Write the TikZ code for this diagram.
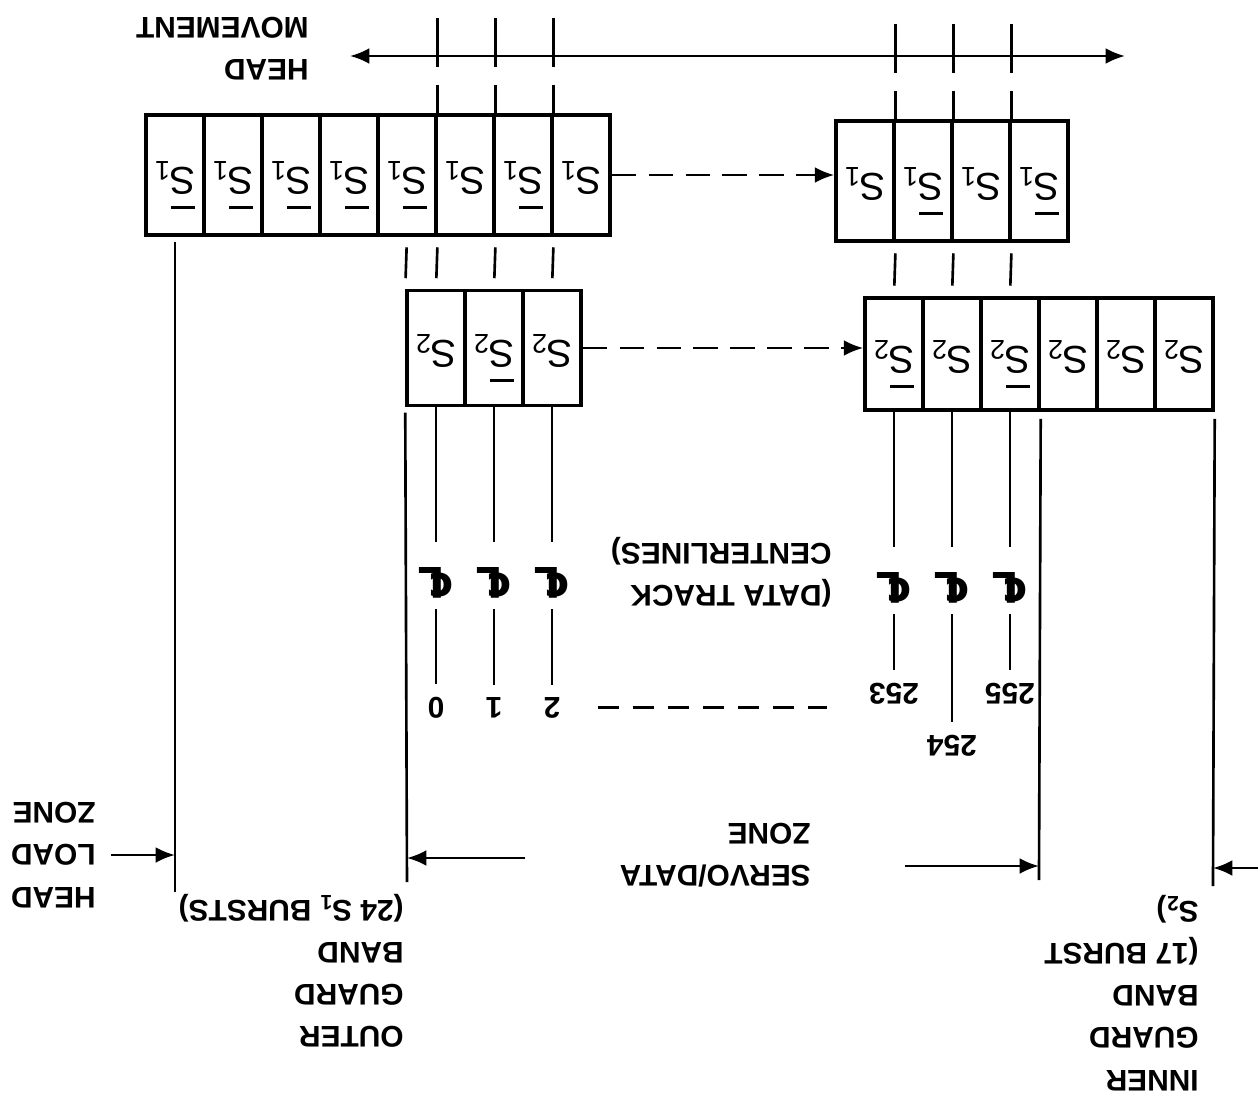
\documentclass[tikz,border=0pt]{standalone}
\usepackage{fontspec}
\setmainfont{Liberation Sans}
\newfontfamily\symfont{DejaVu Sans}
\usetikzlibrary{arrows.meta}

\newcommand{\burst}[1]{S\textsubscript{#1}}
\newcommand{\nburst}[1]{\rlap{\kern.03em\rule[.98em]{.6em}{2pt}}S\textsubscript{#1}}
\newcommand{\clsym}{{\symfont ℄}}

\tikzset{
  cell/.style={draw, line width=2pt, minimum width=1.16cm, minimum height=2.4cm, inner sep=0pt,
    font=\fontsize{22}{22}\selectfont, text height=1.1em, text depth=.3em},
  lbl/.style={font=\bfseries\fontsize{17}{24}\selectfont, align=left, inner sep=0pt},
  trackno/.style={font=\bfseries\fontsize{17}{24}\selectfont, inner sep=.22cm, anchor=base},
  cl/.style={font=\bfseries\fontsize{24}{24}\selectfont, inner sep=.2cm, text depth=.28cm, anchor=base},
  trackdash/.style={dash pattern=on 28pt off 10pt},
  link/.style={dash pattern=on 14pt off 7pt, -{Latex[length=11pt,width=9pt]}},
  zone/.style={-{Latex[length=11pt,width=9pt]}},
}

\begin{document}
\begin{tikzpicture}[x=0.02cm, y=0.02cm, rotate=180, transform shape, line width=1.5pt]
\useasboundingbox (0,0) rectangle (1258,1095);

% S1 bursts (outer and inner)
\foreach \ov [count=\i] in {0,1,0,1,1,1,1,1}
  \node[cell] (oa\i) at ({677+58*(\i-1)},175) {\ifnum\ov=1 \nburst{1}\else\burst{1}\fi};
\foreach \ov [count=\i] in {1,0,1,0}
  \node[cell] (ia\i) at ({219+58*(\i-1)},181) {\ifnum\ov=1 \nburst{1}\else\burst{1}\fi};

% S2 bursts
\foreach \ov [count=\i] in {0,1,0}
  \node[cell, minimum height=2.3cm] (ob\i) at ({706+58*(\i-1)},348) {\ifnum\ov=1 \nburst{2}\else\burst{2}\fi};
\foreach \ov [count=\i] in {0,0,0,1,0,1}
  \node[cell, minimum height=2.24cm] (ib\i) at ({74+58*(\i-1)},354) {\ifnum\ov=1 \nburst{2}\else\burst{2}\fi};

\draw[link] (oa1.west) -- (oa1.west -| ia4.east);
\draw[link] (ob1.west) -- (ob1.west -| ib6.east);

% head movement
\node[lbl, anchor=west] (hm) at (948,49) {HEAD\\MOVEMENT};
\coordinate (hmo) at (908,56);
\coordinate (hmi) at (133,56);
\draw[{Latex[length=11pt,width=9pt]}-{Latex[length=11pt,width=9pt]}] (hmo) -- (hmi);

\foreach \c in {oa2,oa3,oa4,ia2,ia3,ia4}
  \draw[trackdash] (\c.south west) ++(0,-95) -- (\c.south west);
\foreach \a/\b in {oa2.north west/ob1.south, oa3.north west/ob2.south, oa4.north west/ob3.south,
    oa4.north/ob3.south east, ia2.north west/ib4.south, ia3.north west/ib5.south, ia4.north west/ib6.south}
  \draw[shorten <=6pt, shorten >=6pt] (\a) -- (\b);

% track centrelines
\foreach \u/\t in {706/2,764/1,822/0} {
  \node[cl] (cl\t) at (\u,567) {\clsym};
  \node[trackno] (n\t) at (\u,697) {\t};
}
\foreach \u/\t/\h in {364/253/683,306/254/735,248/255/683} {
  \node[cl] (cl\t) at (\u,572) {\clsym};
  \node[trackno] (n\t) at (\u,\h) {\t};
}
\foreach \c/\t in {ob1/2,ob2/1,ob3/0,ib6/253,ib5/254,ib4/255} {
  \draw (\c.north) -- (cl\t.south);
  \draw (cl\t.north) -- (n\t.south);
}
\draw[dash pattern=on 12pt off 8pt, shorten <=.5cm, shorten >=.6cm] (n2.west) -- (n2.west -| n253.east);
\node[lbl, anchor=west] (dtc) at (425,572) {(DATA TRACK\\CENTERLINES)};

% zone boundaries
\coordinate (hll) at (1083,892);
\coordinate (gbo) at (851,882);
\coordinate (gbi) at (219,880);
\coordinate (ibe) at (45,886);
\draw[shorten <=3pt] (oa8.north) -- (hll);
\draw[shorten <=3pt] (ob3.north east) -- (gbo);
\draw[shorten <=4pt] (ib4.north west) -- (gbi);
\draw[shorten <=4pt] (ib1.north west) -- (ibe);

\node[lbl, anchor=west] (hlz) at (1161,855) {HEAD\\LOAD\\ZONE};
\draw[zone, shorten <=8pt] (hlz.west) -- (hlz.west -| hll);
\node[lbl, anchor=west] (ogb) at (853,971) {OUTER\\GUARD\\BAND\\(24 S\textsubscript{1} BURSTS)};
\node[lbl, anchor=west] (sdz) at (446,855) {SERVO/DATA\\ZONE};
\coordinate (sdo) at (733,858);
\coordinate (sdi) at (353,866);
\draw[zone] (sdo) -- (sdo -| gbo);
\draw[zone] (sdi) -- (sdi -| gbi);
\node[lbl, anchor=west] (igb) at (58,993) {INNER\\GUARD\\BAND\\(17 BURST\\S\textsubscript{2})};
\coordinate (edge) at (-2,868);
\draw[zone] (edge) -- (edge -| ibe);
\end{tikzpicture}
\end{document}
